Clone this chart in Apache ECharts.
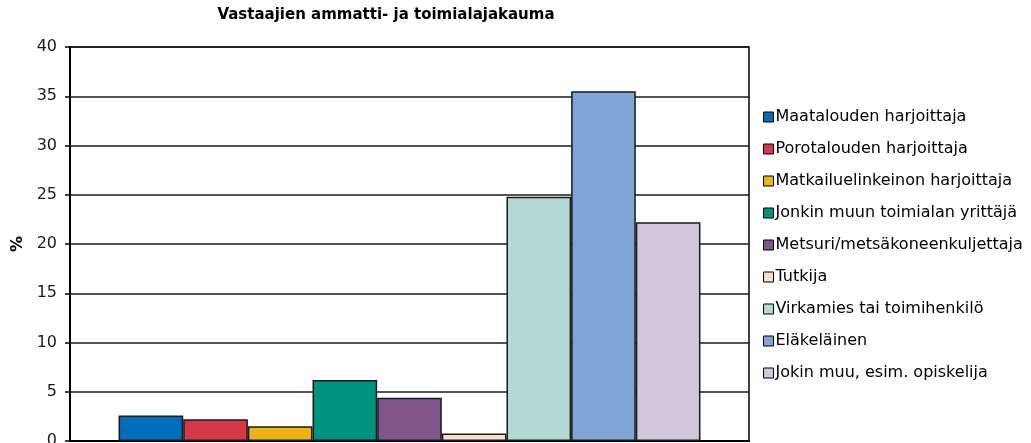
<!DOCTYPE html>
<html>
<head>
<meta charset="utf-8">
<script src="https://cdn.jsdelivr.net/npm/echarts@6/dist/echarts.min.js"></script>
<style>
    html, body { margin: 0; padding: 0; background: #fff; }
    #chart { width: 1031px; height: 443px; }
</style>
</head>
<body>
<div id="chart"></div>
<script type="text/javascript">
    // data
    var seriesNames = ['Maatalouden harjoittaja', 'Porotalouden harjoittaja', 'Matkailuelinkeinon harjoittaja',
        'Jonkin muun toimialan yrittäjä', 'Metsuri/metsäkoneenkuljettaja', 'Tutkija',
        'Virkamies tai toimihenkilö', 'Eläkeläinen', 'Jokin muu, esim. opiskelija'];
    var seriesValues = [2.6, 2.2, 1.5, 6.2, 4.4, 0.75, 24.8, 35.5, 22.2];
    var seriesColors = ['#006EBA', '#D6384A', '#EDB313', '#00937F', '#7F548B', '#FFDCC8', '#B4D8D4', '#7FA5D7', '#D4C6DA'];
    var categories = [''];

    var myChart = echarts.init(document.getElementById('chart'));

    var series = [];
    for (var i = 0; i < seriesNames.length; i++) {
        series.push({
            name: seriesNames[i],
            type: 'bar',
            data: [seriesValues[i]],
            barGap: '0%',
            barCategoryGap: '14.3%',
            itemStyle: {
                color: seriesColors[i],
                borderColor: '#1a1a1a',
                borderWidth: 1.5
            }
        });
    }

    var option = {
        animation: false,
        title: {
            text: 'Vastaajien ammatti- ja toimialajakauma',
            left: 381,
            top: 3,
            textAlign: 'center',
            textStyle: {
                fontFamily: 'DejaVu Sans',
                fontSize: 15,
                fontWeight: 'bold',
                color: '#000'
            }
        },
        legend: {
            orient: 'vertical',
            left: 758,
            top: 102,
            itemWidth: 10,
            itemHeight: 10,
            itemGap: 12,
            icon: 'rect',
            selectedMode: false,
            data: seriesNames,
            itemStyle: { borderColor: '#000', borderWidth: 1 },
            textStyle: {
                fontFamily: 'DejaVu Sans',
                fontSize: 16,
                color: '#000',
                lineHeight: 20,
                padding: [0, 0, 0, -3]
            }
        },
        grid: {
            left: 70,
            right: 282,
            top: 47,
            bottom: 2,
            outerBoundsMode: 'none',
            show: true,
            borderColor: '#000',
            borderWidth: 1.5
        },
        xAxis: {
            type: 'category',
            data: categories,
            axisLine: { lineStyle: { color: '#000', width: 2 } },
            axisTick: { show: false },
            axisLabel: { show: false }
        },
        yAxis: {
            type: 'value',
            min: 0,
            max: 40,
            interval: 5,
            name: '%',
            nameLocation: 'middle',
            nameGap: 43,
            nameRotate: 90,
            nameTextStyle: {
                fontFamily: 'DejaVu Sans',
                fontSize: 16,
                fontWeight: 'bold',
                color: '#000'
            },
            axisLine: { show: true, lineStyle: { color: '#000', width: 2 } },
            axisTick: { show: true, length: 5, lineStyle: { color: '#000', width: 1.5 } },
            axisLabel: {
                fontFamily: 'DejaVu Sans',
                fontSize: 16,
                color: '#1a1a1a',
                margin: 13
            },
            splitLine: { lineStyle: { color: '#1a1a1a', width: 1.5 } }
        },
        series: series
    };
    myChart.setOption(option);
</script>
</body>
</html>
